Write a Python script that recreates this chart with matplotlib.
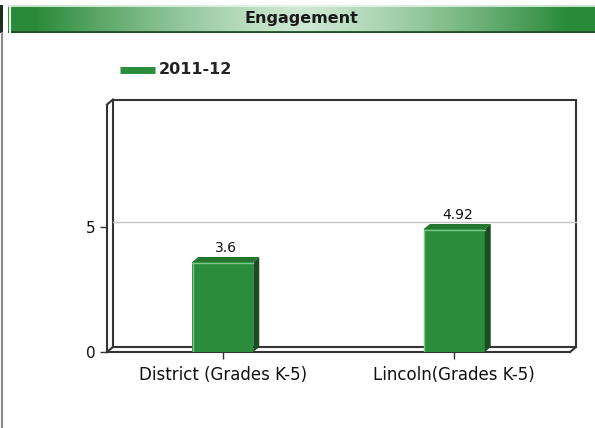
"""
Engagement bar chart with a flat 3D look.
"""

import matplotlib

matplotlib.use("Agg")
import matplotlib.pyplot as plt
import numpy as np
from matplotlib.colors import to_rgb
from matplotlib.lines import Line2D
from matplotlib.patches import Polygon, Rectangle

title = "Engagement"
series_name = "2011-12"
categories = ["District (Grades K-5)", "Lincoln(Grades K-5)"]
values = [3.6, 4.92]
y_ticks = [0, 5]

W, H = 595, 428
FRONT = "#2b8d3c"
SIDE = "#1b4d22"
TOP = "#24762f"
EDGE = "#333333"

plt.rcParams["font.family"] = ["DejaVu Sans"]

fig = plt.figure(figsize=(W / 100, H / 100), dpi=100)


def fig_box(x0, y0, x1, y1):
    """Pixel box (top-left origin) to figure fraction rect."""
    return [x0 / W, 1 - y1 / H, (x1 - x0) / W, (y1 - y0) / H]


# title banner with a green gradient
bax = fig.add_axes(fig_box(8, 5, 595, 33))
t = np.linspace(0, 1, 400)
k = np.clip(np.abs(t - 0.5) * 2.2, 0, 1) ** 1.3
dark, light = np.array(to_rgb("#2a8a3a")), np.array(to_rgb("#cde8d1"))
grad = light[None, :] * (1 - k[:, None]) + dark[None, :] * k[:, None]
bax.imshow(grad[None, :, :], aspect="auto", extent=(0, 1, 0, 1))
bax.set_xlim(0, 1)
bax.set_ylim(0, 1)
bax.axis("off")
bax.add_line(Line2D([0, 1], [0.03, 0.03], color="#1f4f25", lw=2))
bax.add_line(Line2D([0.004, 0.004], [0, 1], color="#e8f5ea", lw=1.5))
bax.add_line(Line2D([0, 1], [0.96, 0.96], color="#e8f5ea", lw=1.2))
bax.text(0.5, 0.52, title, ha="center", va="center", fontsize=11.5,
         fontweight="bold", color="#1a1a1a")

# left page edge
fig.add_artist(Rectangle((0, 1 - 33 / H), 3 / W, 28 / H, transform=fig.transFigure,
                         color="#1c2e1e", lw=0))
fig.add_artist(Line2D([1.5 / W, 1.5 / W], [0, 1 - 33 / H], transform=fig.transFigure,
                      color="#8a8a8a", lw=1.5))

# legend
fig.add_artist(Line2D([120 / W, 155 / W], [1 - 70 / H] * 2, transform=fig.transFigure,
                      color=FRONT, lw=5, solid_capstyle="butt"))
fig.text(159 / W, 1 - 70 / H, series_name, ha="left", va="center", fontsize=11.5,
         fontweight="bold", color="#222222")

# plot area (front plane)
ax = fig.add_axes(fig_box(107, 104.5, 570, 352))
ax.set_xlim(-0.5, len(categories) - 0.5)
ax.set_ylim(0, 9.9)
for s in ax.spines.values():
    s.set_visible(False)
ax.patch.set_alpha(0)

x_span = ax.get_xlim()[1] - ax.get_xlim()[0]
dx = 6 * x_span / (570 - 107)
dy = 5 * 9.9 / (352 - 104.5)
xl, xr = ax.get_xlim()
ytop = ax.get_ylim()[1]

# back wall, floor and left wall
ax.add_patch(Rectangle((xl + dx, dy), xr - xl, ytop, fill=False, ec=EDGE, lw=1.5,
                       clip_on=False, zorder=1))
ax.plot([xl + dx, xr + dx], [5 + dy, 5 + dy], color="#c4c4c4", lw=1, zorder=1,
        clip_on=False)
line_kw = dict(color=EDGE, lw=1.5, clip_on=False, zorder=2)
ax.plot([xl, xl], [0, ytop], **line_kw)
ax.plot([xl, xl + dx], [ytop, ytop + dy], **line_kw)
ax.plot([xl, xr], [0, 0], **line_kw)
ax.plot([xl, xl + dx], [0, dy], **line_kw)
ax.plot([xr, xr + dx], [0, dy], **line_kw)

# bars
xs = np.arange(len(categories))
bw = 61 * x_span / (570 - 107)
ax.bar(xs, values, width=bw, color=FRONT, lw=0, zorder=3)
for x, v in zip(xs, values):
    r, l = x + bw / 2, x - bw / 2
    ax.add_patch(Polygon([(r, 0), (r, v), (r + dx, v + dy), (r + dx, dy)],
                         closed=True, fc=SIDE, ec="none", zorder=3))
    ax.add_patch(Polygon([(l, v), (l + dx, v + dy), (r + dx, v + dy), (r, v)],
                         closed=True, fc=TOP, ec="none", zorder=3))
    ax.plot([l + 0.003, l + 0.003], [0, v - 0.05], color="#7cc487", lw=1, zorder=4)
    ax.plot([l, r], [v - 0.05, v - 0.05], color="#7cc487", lw=1, zorder=4)
    ax.text(x + dx / 2, v + dy + 0.08, f"{v:g}", ha="center", va="bottom",
            fontsize=10, color="#111111", zorder=5)

ax.set_xticks(xs)
ax.set_xticklabels(categories, fontsize=12)
ax.set_yticks(y_ticks)
ax.tick_params(axis="both", colors=EDGE, labelcolor="#111111", labelsize=11,
               length=5, width=1)
ax.tick_params(axis="x", pad=5, labelsize=12)

fig.savefig("out.png", dpi=100)
